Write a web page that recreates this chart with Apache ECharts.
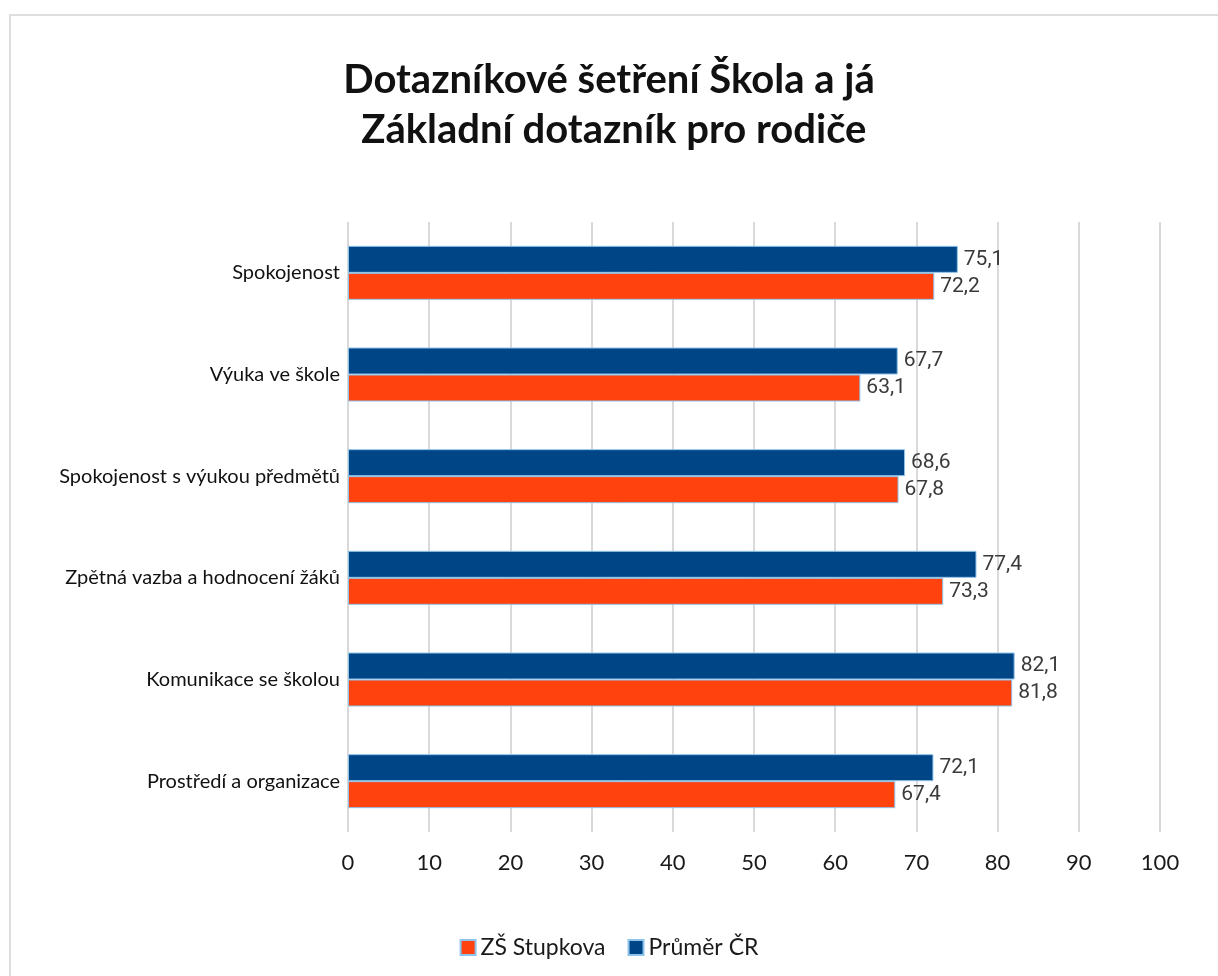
<!DOCTYPE html>
<html>
<head>
    <meta charset="utf-8">
    <title>Dotazníkové šetření Škola a já</title>
    <script src="https://cdn.jsdelivr.net/npm/echarts@6/dist/echarts.min.js"></script>
    <style>
        html, body { margin: 0; padding: 0; background: #fff; }
        #main { width: 1218px; height: 976px; }
    </style>
</head>
<body>
<div id="main"></div>
<script>
    // kategorie shora dolu
    var categories = ['Spokojenost', 'Výuka ve škole', 'Spokojenost s výukou předmětů',
        'Zpětná vazba a hodnocení žáků', 'Komunikace se školou', 'Prostředí a organizace'];
    var skola = [72.2, 63.1, 67.8, 73.3, 81.8, 67.4];
    var prumer = [75.1, 67.7, 68.6, 77.4, 82.1, 72.1];
    var xTicks = [0, 10, 20, 30, 40, 50, 60, 70, 80, 90, 100];

    var myChart = echarts.init(document.getElementById('main'));

    function fmt(p) {
        return String(p.value).replace('.', ',');
    }

    myChart.setOption({
        animation: false,
        graphic: [{
            type: 'rect',
            shape: {x: 10, y: 15, width: 1230, height: 1000},
            style: {fill: 'none', stroke: '#dedede', lineWidth: 2},
            silent: true
        }],
        title: {
            text: 'Dotazníkové šetření Škola a já\n Základní dotazník pro rodiče',
            left: 'center',
            top: 50,
            textStyle: {
                fontFamily: 'Lato',
                fontWeight: 'bold',
                fontSize: 40,
                lineHeight: 50,
                color: '#111'
            }
        },
        legend: {
            bottom: 12,
            left: 'center',
            data: ['ZŠ Stupkova', 'Průměr ČR'],
            itemWidth: 15,
            itemHeight: 15,
            itemGap: 22,
            icon: 'rect',
            textStyle: {fontFamily: 'Lato', fontSize: 23, color: '#1a1a1a'}
        },
        grid: {left: 348, right: 58, top: 222, bottom: 144, containLabel: false},
        xAxis: {
            type: 'value',
            min: 0,
            max: 100,
            interval: 10,
            axisLine: {show: false},
            axisTick: {show: false},
            splitLine: {lineStyle: {color: '#d9d9d9', width: 2}},
            axisLabel: {
                margin: 20,
                fontFamily: 'Lato',
                fontSize: 22,
                color: '#1a1a1a',
                formatter: function (v) { return xTicks.indexOf(v) >= 0 ? String(v) : ''; }
            }
        },
        yAxis: {
            type: 'category',
            inverse: true,
            data: categories,
            axisLine: {show: false},
            axisTick: {show: false},
            axisLabel: {
                margin: 8,
                fontFamily: 'Lato',
                fontSize: 20,
                color: '#111'
            }
        },
        series: [
            {
                name: 'Průměr ČR',
                type: 'bar',
                data: prumer,
                barWidth: 27,
                barGap: '0%',
                itemStyle: {color: '#004586', borderColor: '#8ec3ea', borderWidth: 1},
                label: {
                    show: true, position: 'right', distance: 6, formatter: fmt,
                    fontFamily: 'Roboto', fontSize: 21, color: '#3a3a3a'
                }
            },
            {
                name: 'ZŠ Stupkova',
                type: 'bar',
                data: skola,
                barWidth: 27,
                barGap: '0%',
                itemStyle: {color: '#ff420e', borderColor: '#8ec3ea', borderWidth: 1},
                label: {
                    show: true, position: 'right', distance: 6, formatter: fmt,
                    fontFamily: 'Roboto', fontSize: 21, color: '#3a3a3a'
                }
            }
        ]
    });
</script>
</body>
</html>
